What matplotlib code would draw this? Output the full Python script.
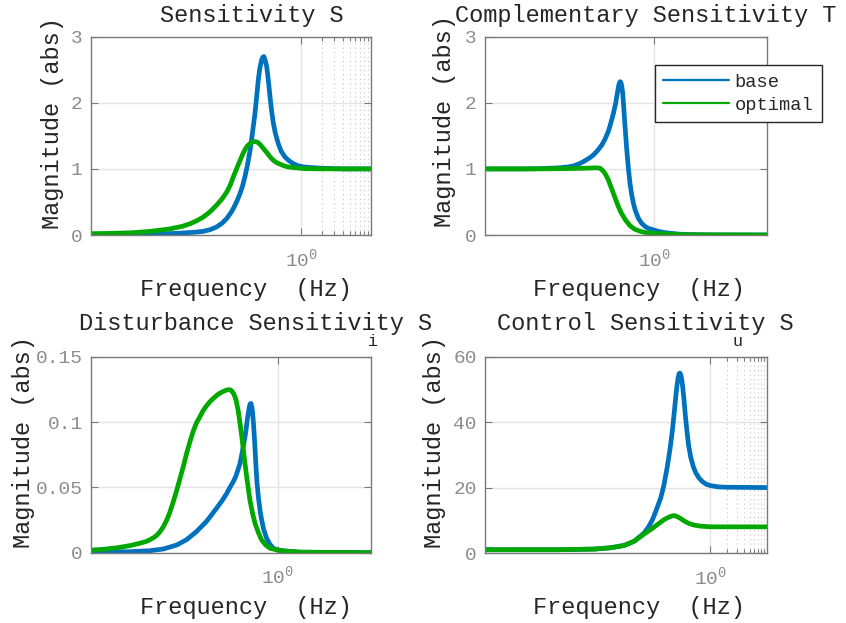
import matplotlib
matplotlib.use("Agg")
import matplotlib.pyplot as plt
from matplotlib.ticker import FixedLocator, NullLocator

plt.rcParams['font.family'] = ['Liberation Mono', 'DejaVu Sans Mono']
plt.rcParams['mathtext.fontset'] = 'custom'
plt.rcParams['mathtext.rm'] = 'Liberation Mono'
plt.rcParams['mathtext.it'] = 'Liberation Mono'
plt.rcParams['mathtext.bf'] = 'Liberation Mono'

# ---------------- data ----------------
series_names = ["base", "optimal"]

# Sensitivity S
s_base_f = [0.001, 0.003, 0.01, 0.02, 0.03, 0.04, 0.05, 0.062, 0.075, 0.087, 0.1, 0.108, 0.12,
            0.135, 0.147, 0.158, 0.172, 0.187, 0.203, 0.22, 0.233, 0.245, 0.258, 0.274, 0.285,
            0.295, 0.30, 0.31, 0.323, 0.335, 0.348, 0.361, 0.38, 0.403, 0.43, 0.474, 0.52,
            0.59, 0.68, 0.776, 0.9, 1.08, 1.4, 2.0, 4.0, 10.0]
s_base_m = [0.0, 0.005, 0.015, 0.03, 0.042, 0.055, 0.08, 0.12, 0.18, 0.25, 0.34, 0.40, 0.50,
            0.63, 0.75, 0.88, 1.06, 1.28, 1.55, 1.84, 2.10, 2.34, 2.52, 2.65, 2.69,
            2.70, 2.68, 2.63, 2.55, 2.42, 2.26, 2.09, 1.88, 1.69, 1.54, 1.38, 1.27,
            1.18, 1.12, 1.08, 1.05, 1.03, 1.02, 1.01, 1.0, 1.0]
s_opt_f = [0.001, 0.002, 0.004, 0.007, 0.013, 0.02, 0.026, 0.033, 0.040, 0.05, 0.062, 0.075,
           0.087, 0.098, 0.108, 0.12, 0.135, 0.148, 0.16, 0.172, 0.185, 0.20, 0.215, 0.228,
           0.242, 0.26, 0.28, 0.30, 0.323, 0.345, 0.37, 0.403, 0.44, 0.48, 0.56, 0.65, 0.776,
           1.08, 2.0, 10.0]
s_opt_m = [0.02, 0.025, 0.035, 0.055, 0.09, 0.13, 0.17, 0.22, 0.27, 0.35, 0.45, 0.55,
           0.65, 0.76, 0.88, 1.0, 1.13, 1.23, 1.30, 1.35, 1.38, 1.405, 1.415, 1.41,
           1.40, 1.37, 1.33, 1.29, 1.25, 1.21, 1.17, 1.13, 1.10, 1.08, 1.05, 1.03, 1.02,
           1.005, 1.0, 1.0]

# Complementary sensitivity T
t_base_f = [0.001, 0.005, 0.01, 0.02, 0.03, 0.037, 0.045, 0.056, 0.07, 0.084, 0.1, 0.118, 0.135,
            0.155, 0.172, 0.19, 0.207, 0.224, 0.236, 0.245, 0.252, 0.26, 0.268, 0.278, 0.29,
            0.298, 0.306, 0.315, 0.325, 0.336, 0.35, 0.362, 0.375, 0.40, 0.43, 0.47, 0.53, 0.6,
            0.69, 0.8, 1.0, 1.2, 1.46, 2.0, 2.9, 5.0, 10.0, 100.0]
t_base_m = [1.0, 1.0, 1.005, 1.015, 1.03, 1.045, 1.07, 1.11, 1.16, 1.21, 1.28, 1.36, 1.45,
            1.57, 1.70, 1.84, 1.98, 2.15, 2.26, 2.31, 2.32, 2.30, 2.25, 2.15, 1.93,
            1.78, 1.64, 1.50, 1.33, 1.19, 1.02, 0.90, 0.78, 0.62, 0.48, 0.36, 0.25, 0.18,
            0.13, 0.10, 0.075, 0.055, 0.04, 0.025, 0.012, 0.005, 0.002, 0.0]
t_opt_f = [0.001, 0.01, 0.03, 0.06, 0.084, 0.1, 0.11, 0.118, 0.127, 0.135, 0.145, 0.155, 0.17,
           0.19, 0.21, 0.233, 0.26, 0.286, 0.31, 0.33, 0.375, 0.45, 0.53, 0.62, 0.74, 1.0,
           1.28, 2.0, 3.0, 10.0, 100.0]
t_opt_m = [1.0, 1.0, 1.005, 1.01, 1.015, 1.015, 1.01, 0.99, 0.96, 0.93, 0.88, 0.83, 0.74,
           0.63, 0.53, 0.43, 0.34, 0.28, 0.23, 0.20, 0.14, 0.09, 0.066, 0.048, 0.035, 0.025,
           0.02, 0.01, 0.005, 0.001, 0.0]

# Disturbance sensitivity Si
si_base_f = [1e-4, 0.0003, 0.0007, 0.0018, 0.0035, 0.0069, 0.0112, 0.018, 0.03, 0.049, 0.065,
             0.081, 0.095, 0.112, 0.125, 0.14, 0.155, 0.17, 0.185, 0.20, 0.212, 0.223, 0.235,
             0.247, 0.258, 0.268, 0.28, 0.291, 0.303, 0.316, 0.33, 0.343, 0.36, 0.385, 0.42,
             0.454, 0.5, 0.58, 0.68, 0.81, 1.0, 1.32, 3.0, 100.0]
si_base_m = [0.0005, 0.0006, 0.0008, 0.0015, 0.0028, 0.0059, 0.010, 0.016, 0.024, 0.034, 0.040,
             0.0454, 0.050, 0.0544, 0.058, 0.063, 0.068, 0.075, 0.082, 0.0888, 0.095, 0.1016,
             0.107, 0.1117, 0.114, 0.1142, 0.1115, 0.1067, 0.099, 0.0888, 0.077, 0.0658, 0.054,
             0.0429, 0.032, 0.025, 0.018, 0.011, 0.0065, 0.0034, 0.002, 0.0014, 0.0004, 0.0]
si_opt_f = [1e-4, 0.0002, 0.0004, 0.0007, 0.0011, 0.0015, 0.0018, 0.0022, 0.0026, 0.003, 0.0035,
            0.0042, 0.0049, 0.0058, 0.0069, 0.0081, 0.0095, 0.011, 0.0132, 0.0155, 0.018,
            0.0215, 0.0255, 0.03, 0.0354, 0.043, 0.0535, 0.066, 0.081, 0.093, 0.103, 0.115,
            0.128, 0.142, 0.156, 0.17, 0.184, 0.2, 0.217, 0.235, 0.255, 0.29, 0.327, 0.39,
            0.454, 0.55, 0.684, 1.0, 1.32, 3.0, 100.0]
si_opt_m = [0.002, 0.0027, 0.004, 0.0055, 0.0072, 0.0085, 0.0098, 0.0115, 0.0135, 0.016, 0.0195,
            0.025, 0.031, 0.039, 0.048, 0.057, 0.066, 0.075, 0.085, 0.093, 0.099,
            0.104, 0.109, 0.1125, 0.1156, 0.1185, 0.1214, 0.1232, 0.1245, 0.1248, 0.124, 0.1215,
            0.117, 0.109, 0.099, 0.089, 0.0786, 0.068, 0.058, 0.049, 0.040, 0.030, 0.0225, 0.015,
            0.0097, 0.006, 0.0034, 0.002, 0.0014, 0.0004, 0.0]

# Control sensitivity Su
su_base_f = [1e-4, 0.002, 0.0087, 0.017, 0.0295, 0.0444, 0.0667, 0.08, 0.094, 0.11, 0.132, 0.15,
             0.173, 0.193, 0.213, 0.23, 0.244, 0.256, 0.268, 0.278, 0.287, 0.297, 0.311, 0.325,
             0.342, 0.36, 0.381, 0.41, 0.449, 0.5, 0.551, 0.63, 0.724, 0.85, 1.0, 1.4, 2.0, 10.0]
su_base_m = [1.0, 1.0, 1.2, 1.6, 2.3, 3.6, 6.1, 8.0, 10.2, 13.2, 16.9, 20.8,
             26.6, 32.0, 37.8, 43.5, 48.0, 51.3, 53.6, 54.8, 55.0, 54.6, 53.0, 50.3,
             46.5, 42.0, 37.8, 33.0, 29.2, 26.3, 24.5, 22.9, 21.8, 21.0, 20.6, 20.2, 20.1, 20.0]
su_opt_f = [1e-4, 0.002, 0.0087, 0.017, 0.0295, 0.0444, 0.0667, 0.088, 0.115, 0.151, 0.18,
            0.199, 0.217, 0.234, 0.26, 0.299, 0.35, 0.42, 0.52, 0.676, 1.0, 10.0]
su_opt_m = [1.0, 1.0, 1.2, 1.6, 2.3, 3.6, 5.8, 7.2, 8.7, 10.2, 10.9,
            11.2, 11.4, 11.4, 11.1, 10.5, 9.7, 9.0, 8.5, 8.2, 8.0, 8.0]

titles = ["Sensitivity S", "Complementary Sensitivity T",
          "Disturbance Sensitivity S", "Control Sensitivity S"]
subscripts = [None, None, "i", "u"]
x_label = "Frequency  (Hz)"
y_label = "Magnitude (abs)"
x_tick_vals = [1.0]
x_tick_labels = [r"$10^{0}$"]
y_ticks = [[0, 1, 2, 3], [0, 1, 2, 3], [0, 0.05, 0.1, 0.15], [0, 20, 40, 60]]
y_tick_labels = [["0", "1", "2", "3"], ["0", "1", "2", "3"],
                 ["0", "0.05", "0.1", "0.15"], ["0", "20", "40", "60"]]
x_limits = [(1e-3, 10), (1e-3, 100), (1e-4, 100), (1e-4, 10)]
y_limits = [(0, 3), (0, 3), (0, 0.15), (0, 60)]
minor_x = [[2, 3, 4, 5, 6, 7, 8, 9], None, None, [2, 3, 4, 5, 6, 7, 8, 9]]

data = [
    ((s_base_f, s_base_m), (s_opt_f, s_opt_m)),
    ((t_base_f, t_base_m), (t_opt_f, t_opt_m)),
    ((si_base_f, si_base_m), (si_opt_f, si_opt_m)),
    ((su_base_f, su_base_m), (su_opt_f, su_opt_m)),
]

# ---------------- styling / layout ----------------
W, H = 846, 623
BLUE = "#0072BD"
GREEN = "#00A800"
TICK_GRAY = "#8c8c8c"
SPINE = "#7a7a7a"
TXT = "#262626"

fig = plt.figure(figsize=(W / 100, H / 100), dpi=100)

def fx(px):
    return px / W

def fy(py):
    return 1 - py / H

# axes boxes in pixel coords: left, right, top, bottom
boxes = [(91, 371, 36.7, 235), (485, 766.7, 36.7, 235),
         (91, 371, 356.7, 552.7), (485, 766.7, 356.7, 553)]
title_pos = [(160, 22), (455, 22), (79, 330), (497, 330)]
sub_pos = [None, None, (372.5, 346), (737, 346)]
xlabel_pos = [(140, 296), (533, 296), (140, 614), (533, 614)]
ylabel_pos = [(59, 123), (451, 121), (30, 442), (441, 442)]

axes = []
for i, (l, r, t, b) in enumerate(boxes):
    ax = fig.add_axes([fx(l), fy(b), (r - l) / W, (b - t) / H])
    axes.append(ax)
    (bf, bm), (of, om) = data[i]
    ax.plot(bf, bm, color=BLUE, lw=3.4, label=series_names[0],
            solid_capstyle='round', solid_joinstyle='round')
    ax.plot(of, om, color=GREEN, lw=3.4, label=series_names[1],
            solid_capstyle='round', solid_joinstyle='round')
    ax.set_xscale('log')
    ax.set_xlim(*x_limits[i])
    ax.set_ylim(*y_limits[i])
    ax.xaxis.set_major_locator(FixedLocator(x_tick_vals))
    ax.set_xticklabels(x_tick_labels)
    if minor_x[i] is not None:
        ax.xaxis.set_minor_locator(FixedLocator(minor_x[i]))
    else:
        ax.xaxis.set_minor_locator(NullLocator())
    ax.xaxis.set_minor_formatter(plt.NullFormatter())
    ax.set_yticks(y_ticks[i])
    ax.set_yticklabels(y_tick_labels[i])
    ax.yaxis.set_minor_locator(NullLocator())
    ax.tick_params(which='both', direction='in', top=True, right=True,
                   colors=SPINE, labelcolor=TICK_GRAY, labelsize=14, width=0.8)
    ax.tick_params(axis='x', which='major', length=5, pad=9)
    ax.tick_params(axis='x', which='minor', length=3)
    ax.tick_params(axis='y', which='major', length=5, pad=6)
    ax.grid(True, which='major', color='#e3e3e3', lw=1.0)
    if minor_x[i] is not None:
        ax.grid(True, which='minor', axis='x', color='#c4c4c4', lw=0.8, ls=(0, (1, 3)))
    ax.set_axisbelow(True)
    for sp in ax.spines.values():
        sp.set_color(SPINE)
        sp.set_linewidth(1.0)

    tx, ty = title_pos[i]
    fig.text(fx(tx), fy(ty), titles[i], ha='left', va='baseline', fontsize=17, color=TXT)
    if sub_pos[i] is not None:
        sx, sy = sub_pos[i]
        fig.text(fx(sx), fy(sy), subscripts[i], ha='center', va='baseline', fontsize=12, color=TXT)
    lx, ly = xlabel_pos[i]
    fig.text(fx(lx), fy(ly), x_label, ha='left', va='baseline', fontsize=17, color=TXT)
    yx, yy = ylabel_pos[i]
    fig.text(fx(yx), fy(yy), y_label, ha='center', va='baseline', rotation=90,
             rotation_mode='anchor', fontsize=17, color=TXT)

leg = axes[1].legend(loc='upper left', bbox_to_anchor=(fx(655), fy(65)),
                     bbox_transform=fig.transFigure, fontsize=13.5, frameon=True,
                     fancybox=False, framealpha=1, edgecolor=TXT, borderpad=0.45,
                     labelspacing=0.32, handlelength=3.5, handletextpad=0.3, borderaxespad=0)
leg.get_frame().set_linewidth(1.0)
for line in leg.get_lines():
    line.set_linewidth(1.6)
for txt in leg.get_texts():
    txt.set_color(TXT)

fig.savefig("out.png", dpi=100)
